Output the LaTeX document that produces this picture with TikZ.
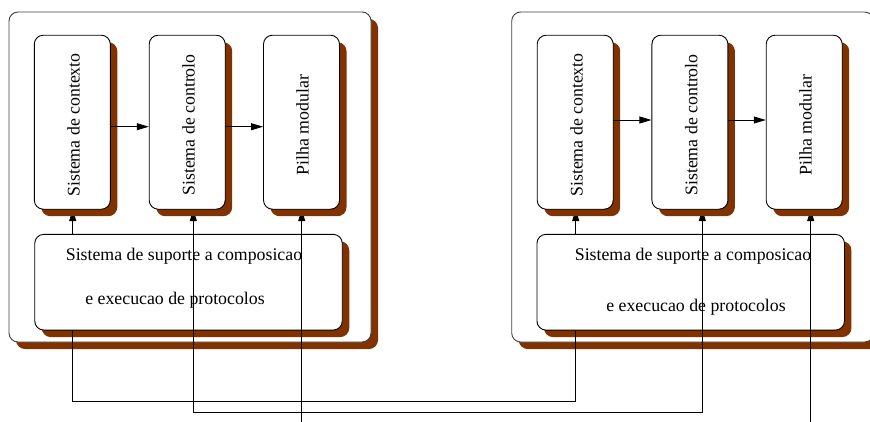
\documentclass[tikz,border=0pt]{standalone}
\usepackage{fontspec}
\setmainfont{Liberation Serif}
\usetikzlibrary{shadows,arrows.meta,calc}
\definecolor{shbrown}{RGB}{128,50,0}
\begin{document}
\begin{tikzpicture}[x=1pt,y=-1pt,
  box/.style={draw=black,line width=0.9pt,fill=white,rounded corners=9pt,inner sep=0pt,
    copy shadow={shadow xshift=7pt,shadow yshift=-7pt,fill=shbrown,draw=none}},
  outerbox/.style={box,draw=black!75,line width=0.9pt},
  col/.style={box,minimum width=76pt,minimum height=174pt},
  sup/.style={box,minimum width=307.5pt,minimum height=95.7pt},
  txt/.style={font=\fontsize{17.8}{20}\selectfont},
  conn/.style={line width=0.8pt},
  harrow/.style={conn,-{Triangle[length=12pt,width=7pt]}},
  varrow/.style={conn,-{Triangle[length=12pt,width=7pt]}}]
\useasboundingbox (0,0) rectangle (870,421);
\fill[white] (0,0) rectangle (870,421);
% outer boxes
\node[outerbox,minimum width=362pt,minimum height=330pt] (lout) at (190,177) {};
\node[outerbox,minimum width=362pt,minimum height=330pt] (rout) at (692.7,177) {};
% support boxes
\node[sup] (lsup) at (188.5,282.2) {};
\node[txt,anchor=base] (lsupa) at (184,260) {Sistema de suporte a composicao};
\node[txt,anchor=base] (lsupb) at (175,304.3) {e execucao de protocolos};
\node[sup] (rsup) at (690.7,282.2) {};
\node[txt,anchor=base] (rsupa) at (693,260) {Sistema de suporte a composicao};
\node[txt,anchor=base] (rsupb) at (696,311) {e execucao de protocolos};
% column boxes (positions only for connectors first)
\path (72.3,122.2) coordinate (lctxc) (187.2,122.2) coordinate (lctlc) (301.5,122.2) coordinate (lpilc)
      (575.2,122.2) coordinate (rctxc) (689.9,122.2) coordinate (rctlc) (804.2,122.2) coordinate (rpilc);
\coordinate (lctxs) at (72.7,209.2);
\coordinate (lctls) at (193.3,209.2);
\coordinate (lpils) at (301.7,209.2);
\coordinate (rctxs) at (575.7,209.2);
\coordinate (rctls) at (702.3,209.2);
\coordinate (rpils) at (810.7,209.2);
\coordinate (lp0) at (301.7,425);
\coordinate (rp0) at (810.7,425);
% vertical connectors
\draw[varrow] (lsup.north -| lctxs) -- (lctxs);
\draw[varrow] (rsup.north -| rctxs) -- (rctxs);
\draw[conn] (lsup.south -| lctxs) -- ++(0,70.5) -| (rsup.south -| rctxs);
\draw[conn,{Triangle[length=12pt,width=7pt]}-{Triangle[length=12pt,width=7pt]}] (lctls) -- ++(0,203) -| (rctls);
\draw[varrow] (lp0) -- (lpils);
\draw[varrow] (rp0) -- (rpils);
% column boxes
\node[col] (lctx) at (lctxc) {};
\node[txt,rotate=90] at (73.5,125) {Sistema de contexto};
\node[col] (lctl) at (lctlc) {};
\node[txt,rotate=90] at (188.5,125) {Sistema de controlo};
\node[col] (lpil) at (lpilc) {};
\node[txt,rotate=90] at (302.5,125) {Pilha modular};
\node[col] (rctx) at (rctxc) {};
\node[txt,rotate=90] at (576.5,125) {Sistema de contexto};
\node[col] (rctl) at (rctlc) {};
\node[txt,rotate=90] at (691.2,125) {Sistema de controlo};
\node[col] (rpil) at (rpilc) {};
\node[txt,rotate=90] at (805.5,125) {Pilha modular};
% horizontal arrows
\draw[harrow] ([yshift=-4.5pt]lctx.east) -- ([yshift=-4.5pt]lctl.west);
\draw[harrow] ([yshift=-4.5pt]lctl.east) -- ([yshift=-4.5pt]lpil.west);
\draw[harrow] ([yshift=2.2pt]rctx.east) -- ([yshift=2.2pt]rctl.west);
\draw[harrow] ([yshift=2.2pt]rctl.east) -- ([yshift=2.2pt]rpil.west);
\end{tikzpicture}
\end{document}
